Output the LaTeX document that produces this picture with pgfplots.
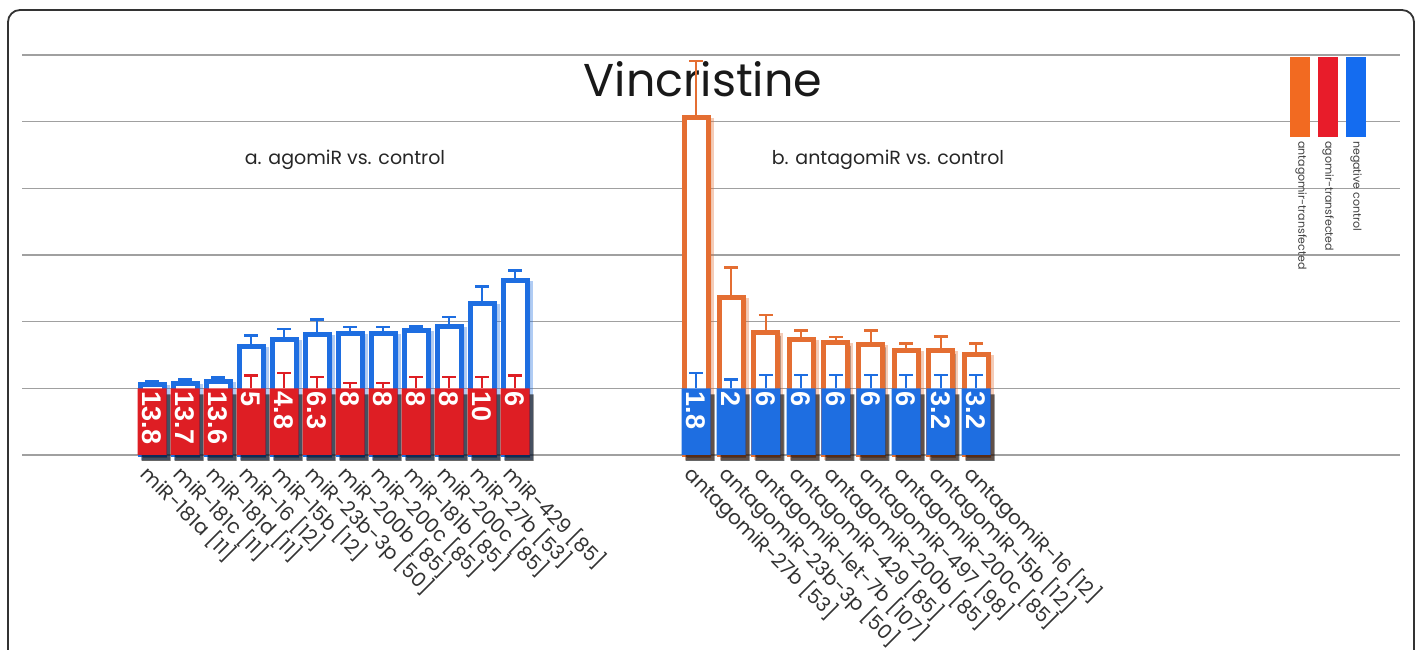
\documentclass[border=0pt]{standalone}
\usepackage{pgfplots}
\pgfplotsset{compat=1.18}
\usepackage{pgfplotstable}
\usepackage{fontspec}
\setmainfont{Poppins}
\newfontfamily\arialf{Liberation Sans}
\usetikzlibrary{shadows}

\definecolor{cred}{RGB}{222,30,36}
\definecolor{cblue}{RGB}{30,110,225}
\definecolor{corange}{RGB}{228,110,50}
\definecolor{lorange}{RGB}{242,106,33}
\definecolor{lred}{RGB}{232,28,42}
\definecolor{lblue}{RGB}{20,108,240}
\definecolor{gridg}{RGB}{160,160,160}

% part a: agomiR vs control
\pgfplotstableread{
x y e lab
0 1 0 13.8
1 1 0 13.7
2 1 0 13.6
}\redA
\pgfplotstableread{
x y e lab
3 1 0.19 5
4 1 0.23 4.8
5 1 0.17 6.3
6 1 0.08 8
7 1 0.08 8
8 1 0.17 8
9 1 0.17 8
10 1 0.17 10
11 1 0.19 6
}\redB
\pgfplotstableread{
x y e
0 1.06 0.05
1 1.07 0.06
2 1.10 0.06
3 1.63 0.16
4 1.73 0.16
5 1.80 0.23
6 1.82 0.10
7 1.82 0.10
8 1.86 0.07
9 1.93 0.14
10 2.27 0.26
11 2.61 0.16
}\negctl
% part b: antagomiR vs control
\pgfplotstableread{
x y e
16.485 5.06 0.85
17.546 2.36 0.45
18.606 1.83 0.27
19.667 1.73 0.14
20.727 1.68 0.09
21.788 1.66 0.21
22.849 1.56 0.11
23.909 1.56 0.22
24.970 1.51 0.16
}\antiorange
\pgfplotstableread{
x y e lab
16.485 1 0.23 1.8
17.546 1 0.13 2
18.606 1 0.20 6
19.667 1 0.20 6
20.727 1 0.20 6
21.788 1 0.20 6
22.849 1 0.20 6
23.909 1 0.20 3.2
24.970 1 0.20 3.2
}\antiblue

\begin{document}
\begin{tikzpicture}
\path[use as bounding box] (0pt,0pt) rectangle (1419pt,650pt);
\fill[white] (0pt,0pt) rectangle (1419pt,650pt);
% frame
\draw[line width=1.8pt, color=black!80, rounded corners=12pt]
  (8pt,-20pt) -- (8pt,640pt) -- (1414pt,640pt) -- (1414pt,-20pt);
% titles
\node[anchor=base, font=\fontsize{46}{52}\selectfont, inner sep=0pt, text=black!90] at (703pt,553pt) {Vincristine};
\node[anchor=base, font=\fontsize{19}{22}\selectfont, inner sep=0pt, text=black!85] at (345pt,485pt) {a. agomiR vs. control};
\node[anchor=base, font=\fontsize{19}{22}\selectfont, inner sep=0pt, text=black!85] at (888pt,485pt) {b. antagomiR vs. control};

\begin{axis}[
  at={(22pt,195pt)}, anchor=south west,
  scale only axis, width=1378pt, height=400pt,
  xmin=-3.94, xmax=37.82, ymin=0, ymax=6,
  ytick={0,1,2,3,4,5,6}, yticklabels={},
  ymajorgrids, grid style={gridg, line width=1.6pt},
  axis line style={draw=none}, major tick style={draw=none},
  xtick={0,1,2,3,4,5,6,7,8,9,10,11,16.485,17.546,18.606,19.667,20.727,21.788,22.849,23.909,24.970},
  xticklabels={{miR-181a [11]},{miR-181c [11]},{miR-181d [11]},{miR-16 [12]},{miR-15b [12]},{miR-23b-3p [50]},{miR-200b [85]},{miR-200c [85]},{miR-181b [85]},{miR-200c [85]},{miR-27b [53]},{miR-429 [85]},
    {antagomiR-27b [53]},{antagomiR-23b-3p [50]},{antagomiR-let-7b [107]},{antagomiR-429 [85]},{antagomiR-200b [85]},{antagomiR-497 [98]},{antagomiR-200c [85]},{antagomiR-15b [12]},{antagomiR-16 [12]}},
  xticklabel style={xshift=1pt, yshift=-7pt, rotate=-45, anchor=north west, font=\fontsize{20}{22}\selectfont, inner sep=0pt, text=black!80},
  clip=false,
  error bars/y dir=plus, error bars/y explicit,
]
% negative control outline bars (part a)
\addplot[ybar, bar shift=0pt, bar width=24pt, draw=cblue, line width=5pt, fill=white,
  drop shadow={shadow xshift=3pt, shadow yshift=-3pt, opacity=0.35, fill=black},
  error bars/error bar style={cblue, line width=2.5pt},
  error bars/error mark options={rotate=90, cblue, line width=2.5pt, mark size=7pt}]
  table[x=x, y=y, y error=e] {\negctl};
% agomiR red bars
\addplot[ybar, bar shift=0pt, bar width=29pt, draw=none, fill=cred,
  drop shadow={shadow xshift=4pt, shadow yshift=-6pt, opacity=0.6, fill=black},
  nodes near coords, point meta=explicit symbolic,
  nodes near coords style={rotate=-90, anchor=west, text=white, font=\arialf\bfseries\fontsize{27}{30}\selectfont, inner sep=3pt}]
  table[x=x, y=y, meta=lab] {\redA};
\addplot[ybar, bar shift=0pt, bar width=29pt, draw=none, fill=cred,
  drop shadow={shadow xshift=4pt, shadow yshift=-6pt, opacity=0.6, fill=black},
  nodes near coords, point meta=explicit symbolic,
  nodes near coords style={rotate=-90, anchor=west, text=white, font=\arialf\bfseries\fontsize{27}{30}\selectfont, inner sep=3pt},
  error bars/error bar style={cred, line width=2.5pt},
  error bars/error mark options={rotate=90, cred, line width=2.5pt, mark size=7pt}]
  table[x=x, y=y, y error=e, meta=lab] {\redB};
% antagomiR-transfected outline bars (part b)
\addplot[ybar, bar shift=0pt, bar width=24pt, draw=corange, line width=5pt, fill=white,
  drop shadow={shadow xshift=3pt, shadow yshift=-3pt, opacity=0.35, fill=black},
  error bars/error bar style={corange, line width=2.5pt},
  error bars/error mark options={rotate=90, corange, line width=2.5pt, mark size=7pt}]
  table[x=x, y=y, y error=e] {\antiorange};
% negative control blue bars (part b)
\addplot[ybar, bar shift=0pt, bar width=29pt, draw=none, fill=cblue,
  drop shadow={shadow xshift=4pt, shadow yshift=-6pt, opacity=0.6, fill=black},
  nodes near coords, point meta=explicit symbolic,
  nodes near coords style={rotate=-90, anchor=west, text=white, font=\arialf\bfseries\fontsize{27}{30}\selectfont, inner sep=3pt},
  error bars/error bar style={cblue, line width=2.5pt},
  error bars/error mark options={rotate=90, cblue, line width=2.5pt, mark size=7pt}]
  table[x=x, y=y, y error=e, meta=lab] {\antiblue};
\end{axis}

% legend
\fill[lorange] (1290pt,513pt) rectangle (1310pt,593pt);
\fill[lred] (1318pt,513pt) rectangle (1338pt,593pt);
\fill[lblue] (1346pt,513pt) rectangle (1366pt,593pt);
\node[rotate=-90, anchor=west, font=\fontsize{11}{13}\selectfont, inner sep=0pt, text=black!75] at (1301pt,509pt) {antagomir-transfected};
\node[rotate=-90, anchor=west, font=\fontsize{11}{13}\selectfont, inner sep=0pt, text=black!75] at (1328pt,509pt) {agomir-transfected};
\node[rotate=-90, anchor=west, font=\fontsize{11}{13}\selectfont, inner sep=0pt, text=black!75] at (1356pt,509pt) {negative control};
\end{tikzpicture}
\end{document}
